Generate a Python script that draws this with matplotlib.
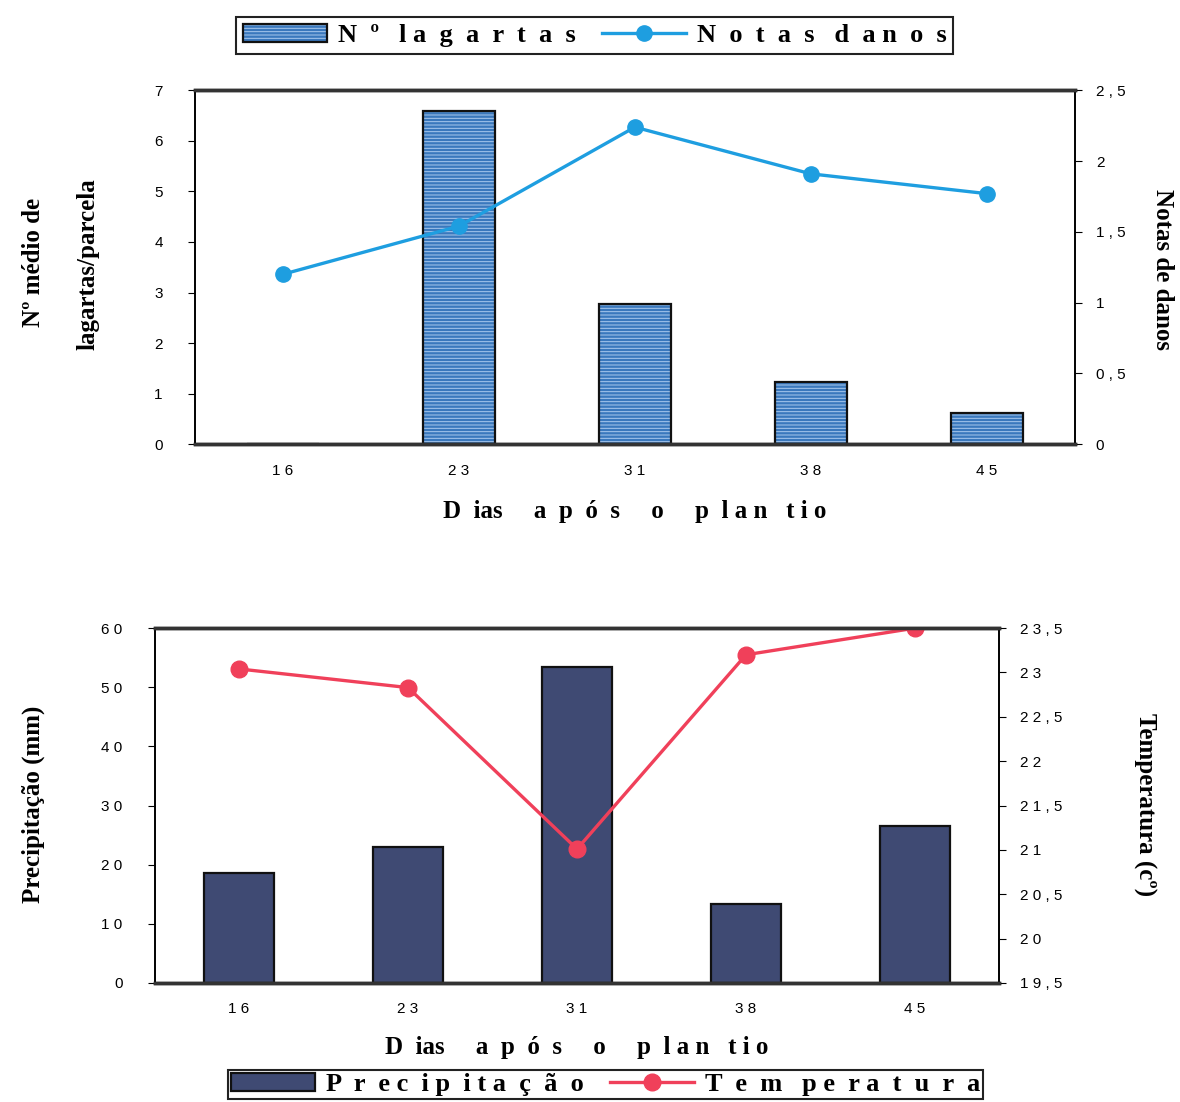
import matplotlib
matplotlib.use("Agg")
import matplotlib.pyplot as plt
import numpy as np

# ---- data ----
dias = ["1 6", "2 3", "3 1", "3 8", "4 5"]
lagartas = [0.0, 6.6, 2.77, 1.22, 0.61]
notas = [1.20, 1.54, 2.24, 1.91, 1.77]
precip = [18.6, 23.0, 53.4, 13.3, 26.5]
temper = [23.04, 22.83, 21.01, 23.20, 23.50]

top_left_ticks = [0, 1, 2, 3, 4, 5, 6, 7]
top_left_labels = ["0", "1", "2", "3", "4", "5", "6", "7"]
top_right_ticks = [0, 0.5, 1, 1.5, 2, 2.5]
top_right_labels = ["0", "0 , 5", "1", "1 , 5", "2", "2 , 5"]
bot_left_ticks = [0, 10, 20, 30, 40, 50, 60]
bot_left_labels = ["0", "1 0", "2 0", "3 0", "4 0", "5 0", "6 0"]
bot_right_ticks = [19.5, 20, 20.5, 21, 21.5, 22, 22.5, 23, 23.5]
bot_right_labels = ["1 9 , 5", "2 0", "2 0 , 5", "2 1", "2 1 , 5", "2 2", "2 2 , 5", "2 3", "2 3 , 5"]

xlabel_txt = "D  ias     a  p  ó  s     o     p  l a n   t i o"
leg_lagartas = "N  º   l a  g  a  r  t  a  s"
leg_notas = "N  o  t  a  s   d  a n  o  s"
leg_precip = "P  r  e c  i p  i t a  ç  ã  o"
leg_temp = "T  e  m   p e  r a  t  u  r  a"

serif = "Liberation Serif"
sans = "Liberation Sans"
plt.rcParams["hatch.linewidth"] = 0.7

fig = plt.figure(figsize=(11.8, 11.02), dpi=100)

def style_axes(ax, ax2):
    for a in (ax, ax2):
        a.spines["top"].set_linewidth(2.5)
        a.spines["bottom"].set_linewidth(2.5)
        a.spines["top"].set_color("#333333")
        a.spines["bottom"].set_color("#333333")
        a.spines["left"].set_linewidth(1.2)
        a.spines["right"].set_linewidth(1.2)
    ax.tick_params(axis="y", direction="out", length=5, width=0.8, labelsize=11, pad=18)
    ax2.tick_params(axis="y", direction="out", length=5, width=0.8, labelsize=11, pad=10)
    ax.tick_params(axis="x", length=0, labelsize=11, pad=14)
    for lab in ax.get_yticklabels() + ax2.get_yticklabels() + ax.get_xticklabels():
        lab.set_fontfamily(sans)

x = np.arange(len(dias))

# ---- top chart ----
ax1 = fig.add_axes([0.165, 0.597, 0.746, 0.321])
b1h = ax1.bar(x, lagartas, width=0.41, color="#3a78bd", edgecolor="#a9c9ee",
              linewidth=0, hatch="-----")
b1e = ax1.bar(x, lagartas, width=0.41, facecolor="none", edgecolor="#111111",
              linewidth=1.6)
ax1.set_xlim(-0.5, 4.5)
ax1.set_ylim(0, 7)
ax1.set_yticks(top_left_ticks)
ax1.set_yticklabels(top_left_labels)
ax1.set_xticks(x)
ax1.set_xticklabels(dias)
ax1r = ax1.twinx()
l1, = ax1r.plot(x, notas, color="#1e9ee0", lw=2.4, marker="o", ms=11)
ax1r.set_ylim(0, 2.5)
ax1r.set_yticks(top_right_ticks)
ax1r.set_yticklabels(top_right_labels)
style_axes(ax1, ax1r)
ax1.set_xlabel(xlabel_txt, fontfamily=serif, fontweight="bold",
               fontsize=18, labelpad=16)
fig.text(0.028, 0.762, "Nº médio de", rotation=90, fontfamily=serif, fontweight="bold",
         fontsize=18, ha="center", va="center")
fig.text(0.075, 0.760, "lagartas/parcela", rotation=90, fontfamily=serif, fontweight="bold",
         fontsize=18, ha="center", va="center")
fig.text(0.985, 0.755, "Notas de danos", rotation=-90, fontfamily=serif, fontweight="bold",
         fontsize=18, ha="center", va="center")

leg1 = fig.legend(handles=[(b1h[0], b1e[0]), l1], labels=[leg_lagartas, leg_notas],
                  loc="center", bbox_to_anchor=(0.504, 0.968), ncol=2,
                  frameon=True, fancybox=False, edgecolor="#222222", framealpha=1,
                  prop={"family": serif, "weight": "bold", "size": 19},
                  handlelength=3.2, columnspacing=1.0, handletextpad=0.4,
                  borderpad=0.25)
leg1.get_frame().set_linewidth(1.5)

# ---- bottom chart ----
ax2 = fig.add_axes([0.131, 0.108, 0.716, 0.322])
b2 = ax2.bar(x, precip, width=0.41, color="#3f4a73", edgecolor="#111111",
             linewidth=1.6)
ax2.set_xlim(-0.5, 4.5)
ax2.set_ylim(0, 60)
ax2.set_yticks(bot_left_ticks)
ax2.set_yticklabels(bot_left_labels)
ax2.set_xticks(x)
ax2.set_xticklabels(dias)
ax2r = ax2.twinx()
l2, = ax2r.plot(x, temper, color="#f0405a", lw=2.4, marker="o", ms=12)
ax2r.set_ylim(19.5, 23.5)
ax2r.set_yticks(bot_right_ticks)
ax2r.set_yticklabels(bot_right_labels)
style_axes(ax2, ax2r)
ax2.set_xlabel(xlabel_txt, fontfamily=serif, fontweight="bold",
               fontsize=18, labelpad=14)
fig.text(0.028, 0.27, "Precipitação (mm)", rotation=90, fontfamily=serif, fontweight="bold",
         fontsize=18, ha="center", va="center")
fig.text(0.97, 0.27, "Temperatura (cº)", rotation=-90, fontfamily=serif, fontweight="bold",
         fontsize=18, ha="center", va="center")

leg2 = fig.legend(handles=[b2, l2], labels=[leg_precip, leg_temp],
                  loc="center", bbox_to_anchor=(0.513, 0.016), ncol=2,
                  frameon=True, fancybox=False, edgecolor="#222222", framealpha=1,
                  prop={"family": serif, "weight": "bold", "size": 19},
                  handlelength=3.2, columnspacing=1.0, handletextpad=0.4,
                  borderpad=0.1)
leg2.get_frame().set_linewidth(1.5)

fig.savefig("out.png", dpi=100)
